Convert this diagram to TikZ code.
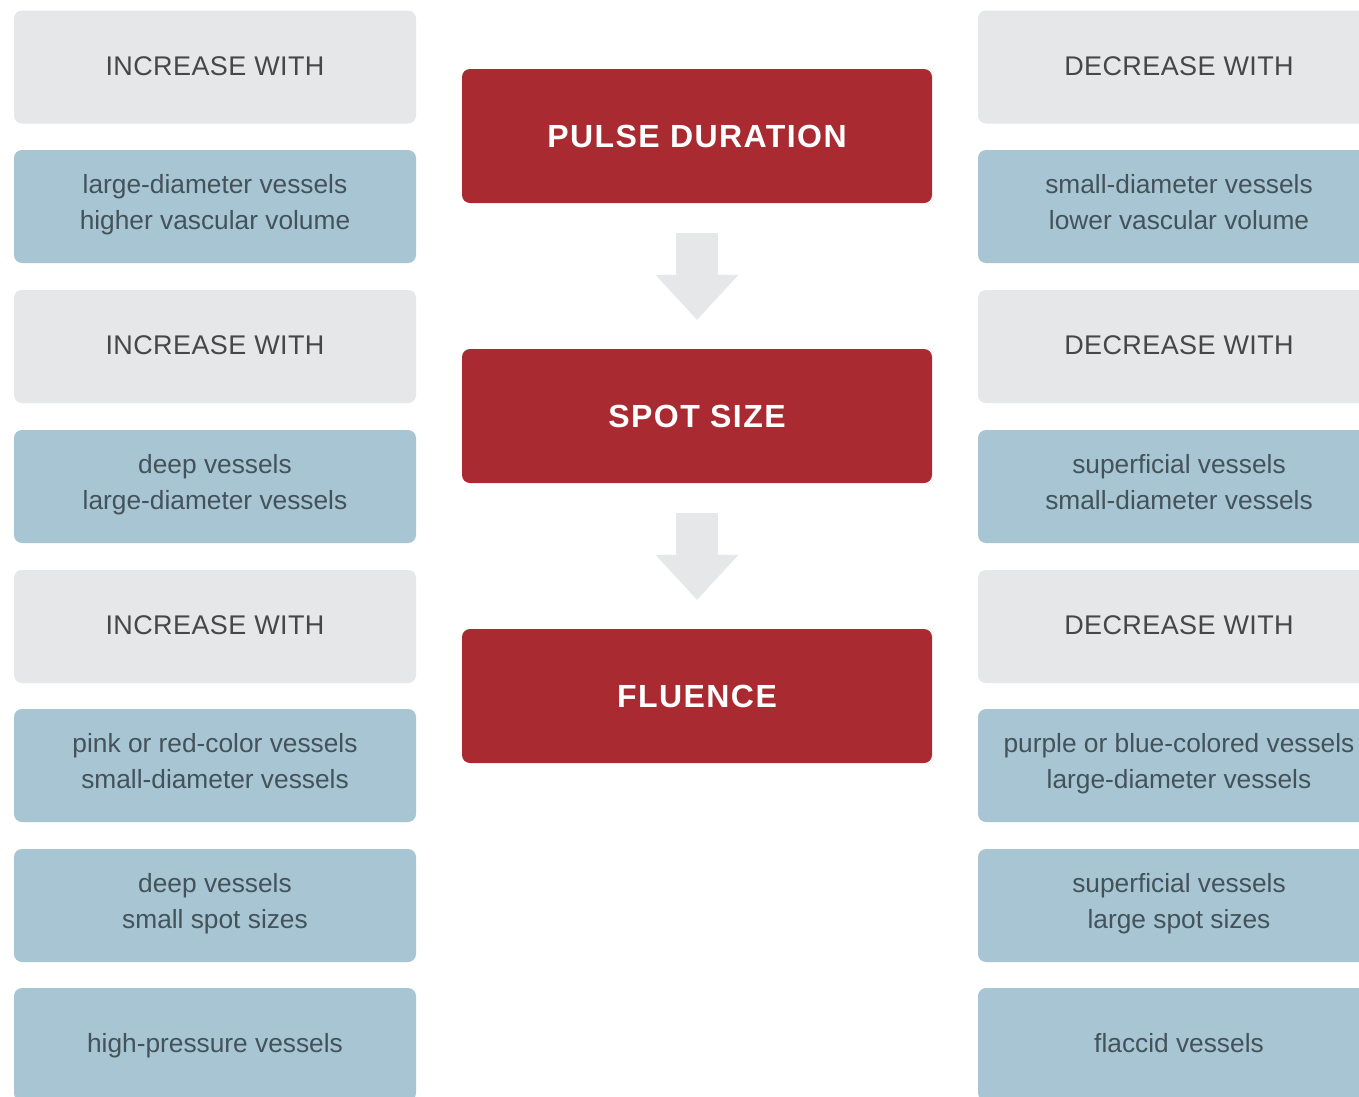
\documentclass[tikz,border=0pt]{standalone}
\usepackage{fontspec}
\setmainfont{Liberation Sans}
\newfontfamily\headfont[LetterSpace=1.5]{Liberation Sans}
\newfontfamily\keyfont[LetterSpace=4.5]{Liberation Sans}
\usetikzlibrary{arrows.meta}
\definecolor{boxgray}{HTML}{E6E7E9}
\definecolor{boxblue}{HTML}{A7C5D3}
\definecolor{boxred}{HTML}{A92B31}
\definecolor{arrgray}{HTML}{E6E7E8}
\definecolor{txtgray}{HTML}{474747}
\definecolor{txtblue}{HTML}{44525A}
\newcommand{\itemstrut}{\rule[-10pt]{0pt}{36pt}}
\newcommand{\headstrut}{\rule[-10pt]{0pt}{36pt}}
\begin{document}
\begin{tikzpicture}[x=1pt,y=-1pt,
  base/.style={rounded corners=8pt, minimum width=402pt, minimum height=113pt, inner sep=0pt, align=center, anchor=center},
  headbox/.style={base, fill=boxgray, text=txtgray, font=\headfont\fontsize{27}{36}\selectfont,
    execute at begin node=\headstrut, execute at end node=\headstrut},
  itembox/.style={base, fill=boxblue, text=txtblue, font=\fontsize{26.3}{36}\selectfont,
    execute at begin node=\itemstrut, execute at end node=\itemstrut},
  keybox/.style={rounded corners=8pt, minimum width=470pt, minimum height=134pt, inner sep=0pt, fill=boxred, text=white, font=\keyfont\bfseries\fontsize{32}{38}\selectfont},
  flow/.style={draw=arrgray, line width=42pt, -{Triangle[width=83pt,length=45pt,line width=0pt]}, shorten <=30pt, shorten >=29pt}]
\useasboundingbox (0,0) rectangle (1359,1096);
\clip (0,0) rectangle (1359,1096);
\fill[white] (0,0) rectangle (1359,1096);
% left column
\node[headbox] (l1) at (215,67) {INCREASE WITH};
\node[itembox] (l2) at (215,206.5) {large-diameter vessels\\higher vascular volume};
\node[headbox] (l3) at (215,346.5) {INCREASE WITH};
\node[itembox] (l4) at (215,486.5) {deep vessels\\large-diameter vessels};
\node[headbox] (l5) at (215,626.5) {INCREASE WITH};
\node[itembox] (l6) at (215,765.5) {pink or red-color vessels\\small-diameter vessels};
\node[itembox] (l7) at (215,905.5) {deep vessels\\small spot sizes};
\node[itembox] (l8) at (215,1044.5) {high-pressure vessels};
% right column
\node[headbox] (r1) at (1179,67) {DECREASE WITH};
\node[itembox] (r2) at (1179,206.5) {small-diameter vessels\\lower vascular volume};
\node[headbox] (r3) at (1179,346.5) {DECREASE WITH};
\node[itembox] (r4) at (1179,486.5) {superficial vessels\\small-diameter vessels};
\node[headbox] (r5) at (1179,626.5) {DECREASE WITH};
\node[itembox] (r6) at (1179,765.5) {purple or blue-colored vessels\\large-diameter vessels};
\node[itembox] (r7) at (1179,905.5) {superficial vessels\\large spot sizes};
\node[itembox] (r8) at (1179,1044.5) {flaccid vessels};
% centre column
\node[keybox] (pd) at (697,136) {PULSE DURATION};
\node[keybox] (ss) at (697,416) {SPOT SIZE};
\node[keybox] (fl) at (697,696) {FLUENCE};
\draw[flow] (pd) -- (ss);
\draw[flow] (ss) -- (fl);
\end{tikzpicture}
\end{document}
